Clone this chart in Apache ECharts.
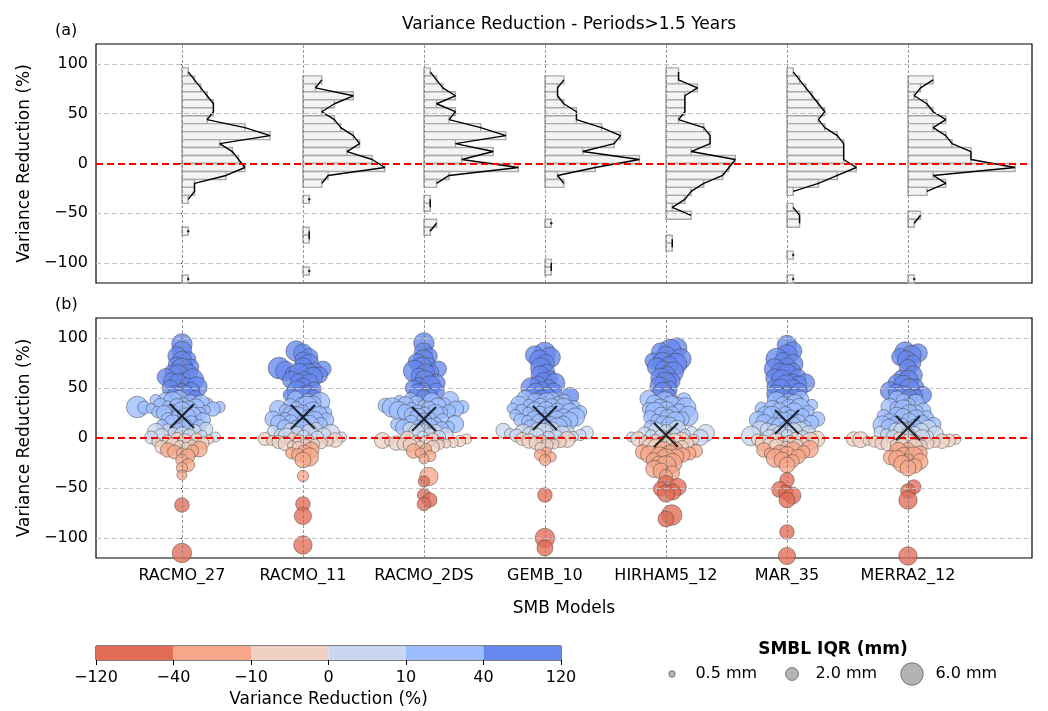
<!DOCTYPE html>
<html>
<head>
<meta charset="utf-8">
<script src="https://cdn.jsdelivr.net/npm/echarts@6/dist/echarts.min.js"></script>
<style>
  html, body { margin: 0; padding: 0; background: #fff; }
  #main { width: 1048px; height: 711px; }
</style>
</head>
<body>
<div id="main"></div>
<script>
// ---- data: [variance reduction %, SMBL IQR mm] ----
var models = ['RACMO_27', 'RACMO_11', 'RACMO_2DS', 'GEMB_10', 'HIRHAM5_12', 'MAR_35', 'MERRA2_12'];

var racmo27 = [
  [94,5.0],[87,4.5],[82,4.0],[79,2.5],[77,4.5],[73,3.0],[71,3.0],[69,5.5],[66,2.5],[64.5,4.0],
  [63,5.0],[61,3.5],[59,2.0],[58,6.0],[57,3.0],[55,4.0],[53,2.5],[51,5.0],[50,3.0],[49,1.5],
  [47,3.5],[45,2.5],[43,4.5],[41,2.0],
  [39.5,3.0],[39,2.0],[38,1.5],[37,4.0],[36,2.5],[35,1.2],[34.5,3.5],[34,1.8],[33,2.2],[32.5,1.0],
  [31.5,3.0],[31,1.5],[31,5.5],[30.5,2.0],[30,4.0],[29.5,1.2],[29,2.5],[28.5,3.5],[28,1.0],[27,2.0],[26.5,4.5],[26,1.5],[25,2.8],[24.5,1.8],
  [23,3.0],[22,1.5],[21,4.0],[19,2.0],[18,2.5],[16.5,1.2],
  [15,2.5],[14,4.0],[13,1.5],[12,2.0],[11,3.0],[10,1.2],[9,2.2],[8.5,1.5],
  [7,2.0],[6,3.5],[5,1.5],[4,2.5],[3,1.0],[2.5,2.0],[1.5,3.0],[1,1.2],[0.5,2.0],
  [-0.5,1.5],[-1,2.0],[-1.5,1.0],[-2,1.2],[-3,2.5],[-4,1.0],[-5,1.8],[-6,0.8],[-6.5,2.2],[-7.5,1.2],
  [-9,2.0],[-10,1.5],[-11,3.0],[-12,2.5],[-13,1.8],[-14,2.2],[-15,1.2],
  [-18,2.5],[-22,1.8],[-27,2.0],[-30,1.5],[-37,1.2],[-67,2.5],[-115,4.5]
];
var racmo11 = [
  [87,5.0],[85,4.0],[81,3.5],[78,3.0],[74,4.5],
  [71,4.0],[70,5.5],[69,3.0],[68,2.5],[67,4.5],[66,3.5],[65,2.0],[64.5,5.0],
  [63,3.0],[61,4.5],[60,2.0],[58,3.5],[57,2.5],[55,4.0],[52,3.0],[49,2.5],
  [47,5.0],[45,3.0],[43,2.0],[42,4.0],[41,2.5],
  [39,3.0],[38,2.0],[36,4.5],[35,1.5],[34,3.0],[33,2.0],
  [31,5.5],[30,2.0],[29,3.5],[28,1.5],[27,4.0],[26,2.5],[25,1.8],[24.5,3.0],
  [23,3.5],[22,2.0],[21,5.0],[20,1.5],[19,3.0],[18,2.5],[17.5,4.0],[17,1.8],[16.5,2.2],
  [15,3.0],[14,2.0],[13,4.5],[12,1.5],[11,2.5],[10,3.5],[9,2.0],
  [7.5,2.5],[7,1.5],[6,3.0],[5,2.0],[4.5,4.0],[4,1.2],[3,2.5],[2.5,1.5],[2,3.0],[1,1.2],[0.5,2.0],
  [-0.5,1.5],[-1,2.0],[-1.5,1.0],[-2,2.5],[-2.5,1.2],[-3,1.8],[-3.5,1.0],[-4,2.0],[-5,1.5],[-5.5,2.5],[-6,1.2],[-7,1.8],[-7.5,1.0],
  [-10,2.0],[-12,3.0],[-14,2.5],[-15,1.5],[-17,2.0],[-19,4.0],[-22,3.0],
  [-38,1.5],[-66,2.5],[-78,3.5],[-107,4.0]
];
var racmo2ds = [
  [95,5.0],[86,4.0],[82,3.0],[78,5.0],[76,3.5],[73,2.5],
  [71,4.5],[69,3.0],[67,5.5],[66,2.0],[65,4.0],[62,3.0],[58,4.5],
  [55,3.5],[54,2.0],[52,5.0],[50,3.0],[49,2.0],[47,3.0],[45,4.0],[43,2.0],[41,2.5],
  [39,2.0],[38,3.5],[37,1.5],[36,4.0],[35,2.5],[34,1.8],[33.5,3.0],[33,1.2],[32.5,2.5],
  [31.5,3.5],[31,2.0],[30.5,4.5],[30,1.5],[29.5,2.5],[29,3.0],[28,1.2],[27.5,4.0],[27,2.0],[26,2.8],[25.5,1.5],[25,3.5],[24.5,2.0],
  [23,2.5],[21,3.5],[20,1.5],[18,2.0],[17,3.0],
  [15.5,2.5],[15,1.5],[14,3.5],[13.5,2.0],[13,1.2],[12,2.8],[11,1.5],[10.5,3.0],[10,2.0],[9,1.2],[8.5,2.5],
  [7,2.0],[6,3.0],[4.5,1.5],[3,2.5],[2,1.2],[1,2.0],
  [-0.5,2.5],[-1,1.2],[-1.5,2.0],[-2,1.0],[-2.5,3.0],[-3,1.5],[-3.5,1.0],[-4,2.0],[-4.5,1.2],[-5,2.5],[-5.5,1.0],[-6,1.8],[-6.5,1.2],[-7,2.2],[-7.5,1.0],
  [-9,2.0],[-11,1.5],[-13,2.5],[-15,1.2],[-18,1.5],[-21,1.2],
  [-38.5,4.0],[-43.5,1.5],[-57,2.0],[-62,2.5],[-66,2.2]
];
var gemb10 = [
  [85,5.5],[83,4.0],[80.5,5.0],[78,4.5],[75,3.5],[70,5.0],[66,3.0],[63,4.0],[60,2.5],[57,3.5],
  [55,4.5],[54,3.0],[52,2.0],[50,5.0],[49,2.5],[47,3.0],[45,4.5],[44,2.0],[42,3.5],[40.5,2.5],
  [39.5,2.0],[39,3.5],[38,1.5],[37,2.8],[36,4.0],[35,2.0],[34,3.0],[33,1.5],[32.5,2.5],
  [31.5,3.0],[31,2.0],[30,4.5],[29.5,1.5],[29,2.5],[28,3.5],[27.5,1.8],[27,3.0],[26,2.0],[25.5,4.0],[25,1.5],[24.5,2.5],
  [23.5,3.0],[23,1.5],[22,2.5],[21,4.0],[20.5,2.0],[20,1.2],[19,3.0],[18,2.0],[17.5,3.5],[17,1.5],[16.5,2.5],
  [15,2.0],[14,3.0],[12.5,1.5],[11,2.5],[10,5.0],[9,2.0],
  [7.5,2.5],[7,4.0],[6.5,1.5],[6,3.0],[5.5,2.0],[5,4.5],[4.5,1.2],[4,2.5],[3.5,3.5],[3,1.5],[2.5,2.0],[2,3.0],[1.5,1.2],[1,2.5],[0.5,1.8],
  [-1,2.0],[-1.5,3.0],[-2,1.2],[-3,2.5],[-4,1.5],[-5,2.0],[-6,1.2],[-7,1.8],
  [-10,1.5],[-14,1.2],[-17,1.5],[-19,1.2],[-22,1.5],
  [-57,2.5],[-100,4.5],[-110,3.0]
];
var hirham512 = [
  [90,5.0],[88,5.5],[86,4.0],[82,4.5],[79,5.0],[77,3.0],[76,4.5],[74,5.5],[73,3.5],
  [71,4.0],[69,3.0],[66,5.0],[63,3.5],[60,4.5],[57,3.0],[55,5.5],[52,4.0],[49,3.0],[46,4.5],[42,3.0],
  [39,3.5],[38,2.5],[36,5.0],[35,3.0],[34,2.0],[33,4.0],
  [31,3.0],[30,5.0],[29,2.0],[28,3.5],[27,2.5],[26,4.5],[25,2.0],
  [23,3.0],[22,4.5],[21,2.0],[20,3.5],[19,2.5],[18,1.5],[17,4.0],
  [15,2.5],[13,3.0],[11,2.0],[9,3.5],
  [7.5,3.0],[7,2.0],[6,1.5],[5,3.5],[4.5,2.0],[4,1.2],[3,2.5],[2.5,1.5],[2,2.0],[1,1.2],[0.5,3.0],
  [-0.5,1.5],[-1,2.5],[-1.5,1.2],[-2,3.0],[-3,2.0],[-3.5,1.5],[-4,3.5],[-5,2.0],[-6,1.5],[-7.5,3.0],
  [-8.5,3.0],[-9,2.0],[-10,4.0],[-11,2.5],[-12,3.5],[-13,2.0],[-14,2.5],[-15,3.0],[-15.5,2.0],
  [-16.5,3.5],[-17,2.5],[-18,4.0],[-19,3.0],[-21,5.0],[-22,2.5],
  [-25,4.5],[-26,3.0],[-28,5.0],[-31,3.5],[-33,3.0],[-35,2.5],[-38,2.0],
  [-46,3.5],[-49,3.5],[-51,2.5],[-54,3.0],[-55.5,3.5],[-77,5.0],[-81,3.0]
];
var mar35 = [
  [93,4.5],[87,4.0],[83,5.0],[79,5.5],[77,3.5],[74,4.5],
  [71,4.0],[69,5.0],[67,3.0],[65,4.5],[63,5.5],[61,3.0],[60,4.0],[58,5.0],[57,2.5],
  [55,4.0],[54,3.0],[53,5.0],[51,2.5],[50,3.5],[49,4.5],[47,3.0],[46,2.0],[44,4.0],[42,2.5],[41,3.5],
  [39,3.0],[38,2.0],[37,4.0],[35,3.5],[34,2.5],[33,1.5],
  [31,3.0],[30,4.5],[29.5,2.0],[29,3.5],[28,2.5],[27,1.5],[26,4.0],[25,2.0],
  [23.5,3.0],[23,2.0],[22,4.5],[21,1.5],[20,3.0],[19,2.5],[18,3.5],[17,2.0],[16.5,4.0],
  [15.5,2.5],[15,3.5],[14,2.0],[13,3.0],[12,1.5],[11,4.0],[10,2.5],[9,3.0],[8.5,2.0],
  [7.5,3.5],[7,2.0],[6,4.0],[5,2.5],[4,3.0],[3,1.5],[2,4.5],[1,2.0],[0.5,3.0],
  [-0.5,2.0],[-1,3.0],[-1.5,1.5],[-2,2.5],[-3,3.5],[-3.5,1.2],[-4,2.0],[-5,3.0],[-6,1.5],[-6.5,2.5],[-7.5,1.8],
  [-9,3.0],[-10,2.0],[-11,3.5],[-12,2.5],[-13,4.0],[-14,2.0],[-15,3.0],[-15.5,1.5],
  [-17,3.5],[-18.5,2.5],[-20,4.0],[-22,3.0],[-23,2.0],[-27,3.0],
  [-42,2.5],[-51.5,3.0],[-54.5,2.5],[-57.5,3.5],[-62,3.0],[-94,2.5],[-118,3.5]
];
var merra212 = [
  [86,5.0],[85,4.0],[83,4.5],[81,3.5],[78,4.0],[75,3.0],[70,3.5],[63,4.0],[60,3.0],[58,4.5],
  [55,3.5],[53,4.5],[51,3.0],[49,5.0],[47,4.0],[46,3.0],[45,2.5],[43,3.5],[42,2.0],[41,3.0],
  [39,3.0],[37,2.5],[35,3.5],[33,2.0],[31,3.5],[30,2.0],[29,4.0],[27,3.0],[26,2.5],[25,3.5],
  [23,3.0],[22,2.0],[21,3.5],[20,2.5],[19,4.0],[18,2.0],[17,3.0],
  [15.5,2.0],[15,3.0],[14,1.5],[13.5,2.5],[13,4.0],[12,2.0],[11,3.0],[10,1.5],[9.5,3.5],[8.5,2.0],
  [7.5,2.5],[7,3.5],[6,1.5],[5,2.0],[4,3.0],[3.5,1.5],[3,2.5],[2,1.2],[1.5,2.0],[0.5,3.0],
  [-0.5,2.0],[-1,2.5],[-1.3,1.2],[-1.6,3.0],[-2,1.5],[-2.4,2.0],[-2.8,1.0],[-3.2,2.5],[-3.6,1.5],[-4,3.0],[-4.5,1.2],[-5,2.0],[-5.5,1.5],[-6,2.5],[-6.5,1.2],[-7,2.0],[-7.5,1.5],
  [-9,3.0],[-11,2.0],[-13,3.5],[-15,2.5],
  [-17,3.0],[-18,4.0],[-19.5,2.5],[-21,3.5],[-22.5,2.0],[-23.5,3.0],[-26,3.5],[-28,2.5],[-30,3.0],
  [-49,2.5],[-53,2.5],[-62,4.0],[-118,4.0]
];
var modelPoints = [racmo27, racmo11, racmo2ds, gemb10, hirham512, mar35, merra212];

// mean markers (X)
var meanMarks = [22, 21, 19, 20, 3, 16, 10];

var yTicks = [-100, -50, 0, 50, 100];
var yGrid = [-100, -50, 50, 100];
var cbBounds = [-120, -40, -10, 0, 10, 40, 120];
var cbColors = ['#e36c56', '#f6a789', '#eed1c3', '#c9d7f0', '#9bbcff', '#6688ee'];
var sizeLegend = [0.5, 2.0, 6.0];
var binWidth = 8;

// ---- layout ----
var X_MIN = -0.71, X_MAX = 7.025;
var G_LEFT = 96, G_WIDTH = 936, G_HEIGHT = 240;
var pxPerX = G_WIDTH / (X_MAX - X_MIN);
var pxPerY = G_HEIGHT / 240;
var countScale = 6.3 / pxPerX;   // x units per histogram count
var swarmD = 7;                  // swarm spacing, px

function bubble(iqr) { return 9.2 * Math.sqrt(iqr); }
function fmtNum(v) { return v < 0 ? '\u2212' + Math.abs(v) : String(v); }
function colorFor(v) {
  for (var i = 0; i < cbColors.length; i++) {
    if (v < cbBounds[i + 1]) return cbColors[i];
  }
  return cbColors[cbColors.length - 1];
}

function swarm(pts) {
  var order = pts.map(function (p, i) { return i; })
    .sort(function (a, b) { return pts[a][0] - pts[b][0]; });
  var placed = [], offs = [];
  order.forEach(function (i) {
    var y = pts[i][0] * pxPerY;
    var near = placed.filter(function (q) { return Math.abs(q.y - y) < swarmD; });
    var cands = [0];
    near.forEach(function (q) {
      var dx = Math.sqrt(swarmD * swarmD - (q.y - y) * (q.y - y));
      cands.push(q.x + dx, q.x - dx);
    });
    cands.sort(function (a, b) { return Math.abs(a) - Math.abs(b); });
    var best = 0;
    for (var k = 0; k < cands.length; k++) {
      var c = cands[k];
      var ok = near.every(function (q) {
        var dx = q.x - c, dy = q.y - y;
        return dx * dx + dy * dy >= swarmD * swarmD - 1e-6;
      });
      if (ok) { best = c; break; }
    }
    placed.push({ x: best, y: y });
    offs[i] = best;
  });
  return offs;
}

// ---- build series data ----
var histBars = [], histLines = [], histDots = [], bubbles = [];
modelPoints.forEach(function (pts, m) {
  var counts = {}, lo = Infinity, hi = -Infinity;
  pts.forEach(function (p) {
    var b = Math.floor(p[0] / binWidth);
    counts[b] = (counts[b] || 0) + 1;
    lo = Math.min(lo, b); hi = Math.max(hi, b);
  });
  var line = [];
  for (var b = hi; b >= lo; b--) {
    var c = counts[b] || 0;
    if (c) {
      histBars.push([m, b * binWidth, m + c * countScale, (b + 1) * binWidth]);
      line.push([m + c * countScale, b * binWidth + binWidth / 2]);
      if (!counts[b - 1] && !counts[b + 1]) histDots.push([m + c * countScale, b * binWidth + binWidth / 2]);
    } else {
      line.push(['-', '-']);
    }
  }
  histLines.push(line);
  var offs = swarm(pts);
  pts.forEach(function (p, i) {
    bubbles.push({ value: [m + offs[i] / pxPerX, p[0], p[1]], itemStyle: { color: colorFor(p[0]) } });
  });
});

var catTicks = models.map(function (d, i) { return i; });

function gridLines(ax) {
  return [
    { type: 'line', xAxisIndex: ax, yAxisIndex: ax, data: [], silent: true, z: 1,
      markLine: { silent: true, symbol: 'none', label: { show: false }, animation: false,
        data: yGrid.map(function (v) { return { yAxis: v, lineStyle: { color: '#c4c4c4', width: 1.2, type: [5, 3] } }; })
          .concat(catTicks.map(function (v) { return { xAxis: v, lineStyle: { color: '#7a7a7a', width: 0.8, type: [3, 2] } }; })) } },
    { type: 'line', xAxisIndex: ax, yAxisIndex: ax, data: [], silent: true, z: 6,
      markLine: { silent: true, symbol: 'none', label: { show: false }, animation: false,
        data: [{ yAxis: 0, lineStyle: { color: '#ff0000', width: 1.8, type: [7, 4] } }] } }
  ];
}

var series = [];
series.push({
  type: 'custom', xAxisIndex: 0, yAxisIndex: 0, data: histBars, z: 2, silent: true,
  encode: { x: [0, 2], y: [1, 3] },
  renderItem: function (params, api) {
    var p0 = api.coord([api.value(0), api.value(1)]);
    var p1 = api.coord([api.value(2), api.value(3)]);
    return { type: 'rect',
      shape: { x: p0[0], y: p1[1], width: p1[0] - p0[0], height: p0[1] - p1[1] },
      style: { fill: '#f3f3f3', stroke: '#aaaaaa', lineWidth: 1.4 } };
  }
});
histLines.forEach(function (line) {
  series.push({ type: 'line', xAxisIndex: 0, yAxisIndex: 0, data: line, showSymbol: false,
    connectNulls: false, silent: true, z: 3, lineStyle: { color: '#000', width: 1.4 } });
});
series.push({ type: 'scatter', xAxisIndex: 0, yAxisIndex: 0, data: histDots, symbolSize: 2.5,
  silent: true, z: 3, itemStyle: { color: '#000' } });
series = series.concat(gridLines(0));

series.push({
  type: 'scatter', xAxisIndex: 1, yAxisIndex: 1, data: bubbles, z: 3,
  symbolSize: function (v) { return bubble(v[2]); },
  itemStyle: { opacity: 0.78, borderColor: '#3a3a3a', borderWidth: 0.6 }
});
series = series.concat(gridLines(1));
series.push({
  type: 'scatter', xAxisIndex: 1, yAxisIndex: 1, z: 8,
  data: meanMarks.map(function (v, i) { return [i, v]; }),
  symbol: 'path://M0,0L10,10M10,0L0,10', symbolSize: 24,
  itemStyle: { color: 'rgba(0,0,0,0)', borderColor: '#000', borderWidth: 2.2 }
});

// colorbar
series.push({
  type: 'custom', xAxisIndex: 2, yAxisIndex: 2, silent: true,
  data: cbColors.map(function (c, i) { return [i, i + 1]; }),
  encode: { x: [0, 1] },
  renderItem: function (params, api) {
    var p0 = api.coord([api.value(0), 0]);
    var p1 = api.coord([api.value(1), 1]);
    return { type: 'rect',
      shape: { x: p0[0], y: p1[1], width: p1[0] - p0[0], height: p0[1] - p1[1] },
      style: { fill: cbColors[params.dataIndex] } };
  }
});

// size legend
series.push({
  type: 'scatter', xAxisIndex: 3, yAxisIndex: 3, silent: true,
  data: sizeLegend.map(function (s, i) {
    return { value: [i + 0.1, 0.5, s], label: { distance: 23 - bubble(s) / 2 } };
  }),
  symbolSize: function (v) { return bubble(v[2]); },
  itemStyle: { color: '#a0a0a0', borderColor: '#444', borderWidth: 0.8 },
  label: { show: true, position: 'right', color: '#000', fontSize: 16, opacity: 1,
    formatter: function (p) { return p.value[2].toFixed(1) + ' mm'; } }
});

var axisFont = { color: '#000', fontSize: 16 };
function panelX(idx, withLabels) {
  return {
    type: 'value', gridIndex: idx, min: X_MIN, max: X_MAX,
    axisLine: { show: false }, splitLine: { show: false },
    axisTick: { show: true, customValues: catTicks, length: 5, lineStyle: { color: '#000' } },
    axisLabel: withLabels ? Object.assign({ customValues: catTicks, margin: 10,
      formatter: function (v) { return models[Math.round(v)]; } }, axisFont) : { show: false },
    name: withLabels ? 'SMB Models' : '', nameLocation: 'middle', nameGap: 42,
    nameTextStyle: { color: '#000', fontSize: 17 }
  };
}
function panelY(idx) {
  return {
    type: 'value', gridIndex: idx, min: -120, max: 120,
    axisLine: { show: false }, splitLine: { show: false },
    axisTick: { show: true, customValues: yTicks, length: 5, lineStyle: { color: '#000' } },
    axisLabel: Object.assign({ customValues: yTicks, margin: 8, formatter: fmtNum }, axisFont),
    name: 'Variance Reduction (%)', nameLocation: 'middle', nameGap: 62,
    nameTextStyle: { color: '#000', fontSize: 17 }
  };
}

var chart = echarts.init(document.getElementById('main'));
chart.setOption({
  animation: false,
  backgroundColor: '#fff',
  textStyle: { fontFamily: 'DejaVu Sans' },
  title: [
    { text: 'Variance Reduction - Periods>1.5 Years', left: 564, top: 11, textAlign: 'center',
      textStyle: { fontSize: 17, fontWeight: 'normal', color: '#000' } },
    { text: '(a)', left: 50, top: 18, textStyle: { fontSize: 16, fontWeight: 'normal', color: '#000' } },
    { text: '(b)', left: 50, top: 292, textStyle: { fontSize: 16, fontWeight: 'normal', color: '#000' } },
    { text: 'SMBL IQR (mm)', left: 828, top: 636, textAlign: 'center',
      textStyle: { fontSize: 17, fontWeight: 'bold', color: '#000' } }
  ],
  grid: [
    { left: G_LEFT, top: 44, width: G_WIDTH, height: 239, show: true, borderColor: '#000', borderWidth: 1.2 },
    { left: G_LEFT, top: 318, width: G_WIDTH, height: G_HEIGHT, show: true, borderColor: '#000', borderWidth: 1.2 },
    { left: 96, top: 646, width: 465, height: 14, show: true, borderColor: '#000', borderWidth: 1 },
    { left: 660, top: 664, width: 360, height: 20, show: false }
  ],
  xAxis: [
    panelX(0, false),
    panelX(1, true),
    { type: 'value', gridIndex: 2, min: 0, max: 6, interval: 1,
      axisLine: { show: false }, splitLine: { show: false },
      axisTick: { show: true, length: 5, lineStyle: { color: '#000' } },
      axisLabel: Object.assign({ margin: 10, formatter: function (v) { return fmtNum(cbBounds[v]); } }, axisFont),
      name: 'Variance Reduction (%)', nameLocation: 'middle', nameGap: 31,
      nameTextStyle: { color: '#000', fontSize: 17 } },
    { type: 'value', gridIndex: 3, min: 0, max: 3, show: false }
  ],
  yAxis: [
    panelY(0),
    panelY(1),
    { type: 'value', gridIndex: 2, min: 0, max: 1, show: false },
    { type: 'value', gridIndex: 3, min: 0, max: 1, show: false }
  ],
  series: series
});
</script>
</body>
</html>
